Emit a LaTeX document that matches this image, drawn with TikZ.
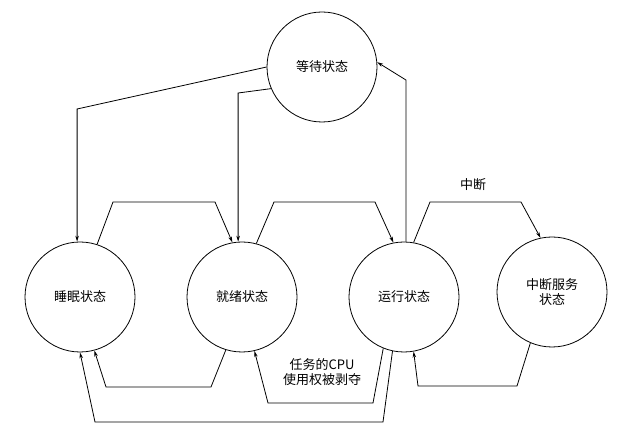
\documentclass[tikz,border=0pt]{standalone}
\usepackage{fontspec}
\setmainfont{Noto Sans CJK SC}
\usetikzlibrary{arrows.meta}
\tikzset{
  state/.style={draw, circle, line width=0.8pt, minimum size=110pt, inner sep=0pt, font=\fontsize{13}{15}\selectfont, align=center},
  trans/.style={line width=0.8pt, -{Stealth[length=6pt,width=3.5pt]}},
}
\begin{document}
\begin{tikzpicture}[x=1pt,y=1pt]
\useasboundingbox (0,0) rectangle (636,436);
% states
\node[state] (wait) at (322,369) {等待状态};
\node[state] (sleep) at (80,139) {睡眠状态};
\node[state] (ready) at (242,139) {就绪状态};
\node[state] (run) at (404,139) {运行状态};
\node[state] (isr) at (552,144) {中断服务\\状态};
% from the waiting state
\draw[trans] (wait.180) -- (sleep.93 |- 0,327) -- (sleep.93);
\draw[trans] (wait.203) -- (ready.94 |- 0,343) -- (ready.94);
\draw[trans] (run.88) -- (run.88 |- 0,356) -- (wait.5);
% upper transitions
\draw[trans] (sleep.72) -- (113,234) -- (215,234) -- (ready.100);
\draw[trans] (ready.75) -- (274,234) -- (375,234) -- (run.101);
\draw[trans] (run.80) -- (430,234) -- (521,234) -- (isr.102);
% lower transitions
\draw[trans] (ready.253) -- (211,49) -- (106,49) -- (sleep.285);
\draw[trans] (run.248) -- (373,33) -- (268,33) -- (ready.283);
\draw[trans] (run.258) -- (383,14) -- (95,14) -- (sleep.270);
\draw[trans] (isr.247) -- (517,50) -- (418,50) -- (run.280);
% labels
\node[font=\fontsize{13}{15}\selectfont] (intlabel) at (473,251) {中断};
\node[font=\fontsize{13}{15}\selectfont, align=center] (cpulabel) at (322,64) {任务的CPU\\使用权被剥夺};
\end{tikzpicture}
\end{document}
